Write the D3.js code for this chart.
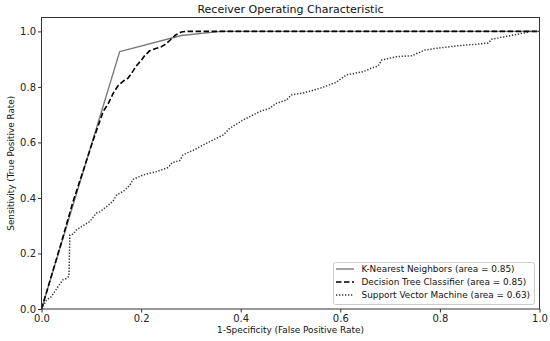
<!DOCTYPE html>
<html><head><meta charset="utf-8">
<script src="https://cdn.jsdelivr.net/npm/d3@7"></script>
<style>body{margin:0;background:#fff}svg{display:block}text{font-family:"DejaVu Sans",sans-serif}</style>
</head><body><svg id="c" width="550" height="341"></svg>
<script>
const knnFpr = [0, 0.157, 0.281, 0.36, 1];
const knnTpr = [0, 0.927, 0.985, 1.0, 1];
const dtFpr = [0, 0.02, 0.04, 0.063, 0.084, 0.105, 0.124, 0.134, 0.145, 0.154, 0.165, 0.174, 0.183, 0.19, 0.2, 0.207, 0.217, 0.228, 0.241, 0.25, 0.258, 0.268, 0.274, 0.281, 0.291, 0.3, 1];
const dtTpr = [0, 0.12, 0.24, 0.385, 0.5, 0.615, 0.712, 0.74, 0.78, 0.805, 0.822, 0.832, 0.855, 0.875, 0.895, 0.912, 0.93, 0.937, 0.945, 0.955, 0.968, 0.985, 0.992, 0.998, 1.0, 1.0, 1];
const svmFpr = [0, 0.01, 0.02, 0.033, 0.043, 0.05, 0.055, 0.057, 0.064, 0.07, 0.077, 0.097, 0.11, 0.117, 0.137, 0.144, 0.151, 0.165, 0.177, 0.184, 0.197, 0.204, 0.217, 0.231, 0.244, 0.255, 0.262, 0.278, 0.284, 0.305, 0.325, 0.338, 0.365, 0.378, 0.405, 0.438, 0.458, 0.472, 0.492, 0.502, 0.53, 0.559, 0.59, 0.612, 0.646, 0.666, 0.676, 0.683, 0.713, 0.743, 0.77, 0.793, 0.84, 0.87, 0.897, 0.904, 0.94, 0.976, 0.98, 1];
const svmTpr = [0, 0.032, 0.045, 0.08, 0.105, 0.11, 0.118, 0.267, 0.27, 0.285, 0.293, 0.315, 0.345, 0.35, 0.378, 0.39, 0.411, 0.425, 0.445, 0.467, 0.477, 0.483, 0.489, 0.495, 0.503, 0.51, 0.527, 0.535, 0.555, 0.572, 0.591, 0.603, 0.627, 0.651, 0.681, 0.711, 0.723, 0.741, 0.753, 0.771, 0.78, 0.795, 0.815, 0.843, 0.855, 0.87, 0.875, 0.897, 0.909, 0.912, 0.933, 0.939, 0.949, 0.953, 0.958, 0.972, 0.984, 0.997, 1.0, 1];
const xTicks = [0, 0.2, 0.4, 0.6, 0.8, 1.0];
const yTicks = [0, 0.2, 0.4, 0.6, 0.8, 1.0];
const seriesNames = ["K-Nearest Neighbors (area = 0.85)", "Decision Tree Classifier (area = 0.85)", "Support Vector Machine (area = 0.63)"];
const title = "Receiver Operating Characteristic";
const xLabel = "1-Specificity (False Positive Rate)";
const yLabel = "Sensitivity (True Positive Rate)";

const svg = d3.select("#c");
const L = 41.5, R = 539.5, T = 17.5, B = 309;
const x = d3.scaleLinear().domain([0, 1]).range([L, R]);
const y = d3.scaleLinear().domain([0, 1.05]).range([B, T]);

const styles = [
  {stroke: "#7a7a7a", width: 1.4, dash: null},
  {stroke: "#000", width: 1.6, dash: "5.5,2.5"},
  {stroke: "#333", width: 1.5, dash: "1.3,1.7"}
];
const series = [[knnFpr, knnTpr], [dtFpr, dtTpr], [svmFpr, svmTpr]];
const line = d3.line().x(d => x(d[0])).y(d => y(d[1]));
const plot = svg.append("g");
series.forEach((s, i) => {
  const pts = s[0].map((v, j) => [v, s[1][j]]);
  plot.append("path").attr("d", line(pts)).attr("fill", "none")
    .attr("stroke", styles[i].stroke).attr("stroke-width", styles[i].width)
    .attr("stroke-dasharray", styles[i].dash).attr("stroke-linejoin", "round");
});

const fmt = d3.format(".1f");
const xa = svg.append("g").attr("transform", `translate(0,${B})`)
  .call(d3.axisBottom(x).tickValues(xTicks).tickFormat(fmt).tickSize(3.5).tickPadding(2));
const ya = svg.append("g").attr("transform", `translate(${L},0)`)
  .call(d3.axisLeft(y).tickValues(yTicks).tickFormat(fmt).tickSize(3.5).tickPadding(2));
[xa, ya].forEach(a => {
  a.select(".domain").remove();
  a.selectAll(".tick line").attr("stroke", "#333");
  a.selectAll(".tick text").attr("fill", "#222").style("font-size", "10px");
});
svg.append("rect").attr("x", L).attr("y", T).attr("width", R - L).attr("height", B - T)
  .attr("fill", "none").attr("stroke", "#333").attr("stroke-width", 1);

svg.append("text").attr("x", (L + R) / 2).attr("y", 13).attr("text-anchor", "middle")
  .style("font-size", "11px").attr("fill", "#111").text(title);
svg.append("text").attr("x", (L + R) / 2).attr("y", 333).attr("text-anchor", "middle")
  .style("font-size", "8.9px").attr("fill", "#111").text(xLabel);
svg.append("text").attr("transform", `translate(14,${(T + B) / 2}) rotate(-90)`).attr("text-anchor", "middle")
  .style("font-size", "8.9px").attr("fill", "#111").text(yLabel);

const lg = svg.append("g");
lg.append("rect").attr("x", 333.5).attr("y", 262.5).attr("width", 201).attr("height", 42).attr("rx", 2)
  .attr("fill", "#fff").attr("stroke", "#ccc");
seriesNames.forEach((n, i) => {
  const yy = 269 + i * 13;
  lg.append("line").attr("x1", 336).attr("x2", 354).attr("y1", yy).attr("y2", yy)
    .attr("stroke", styles[i].stroke).attr("stroke-width", styles[i].width).attr("stroke-dasharray", styles[i].dash);
  lg.append("text").attr("x", 361.5).attr("y", yy + 3.3).style("font-size", "8.9px").attr("fill", "#111").text(n);
});
</script></body></html>
